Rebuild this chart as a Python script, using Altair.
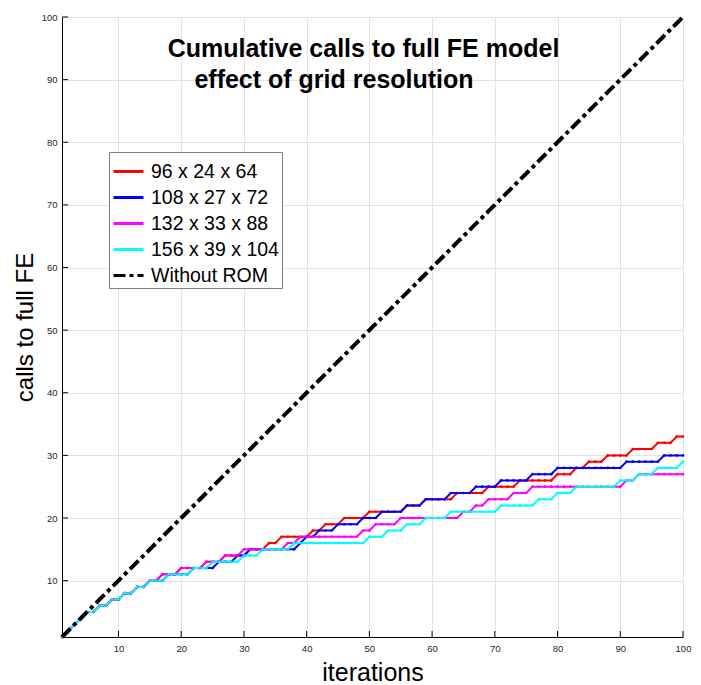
import altair as alt
import pandas as pd

# ---------------- data ----------------
iterations = list(range(1, 101))

calls_96x24x64 = [1, 2, 3, 4, 5, 5, 6, 6, 7, 7, 8, 8, 9, 9, 10, 10,
                  11, 11, 11, 12, 12, 12, 12, 13, 13, 13, 14, 14, 14, 14,
                  15, 15, 15, 16, 16, 17, 17, 17, 17, 17, 18, 18, 19, 19, 19, 20, 20, 20, 20,
                  21, 21, 21, 21, 21, 21, 22, 22, 22, 23, 23, 23, 23, 23, 24, 24, 24, 24, 24,
                  25, 25, 25, 25, 25, 26, 26, 26, 26, 26, 26, 27, 27, 27, 28, 28, 29, 29, 29,
                  30, 30, 30, 30, 31, 31, 31, 31, 32, 32, 32, 33, 33]

calls_108x27x72 = [1, 2, 3, 4, 5, 5, 6, 6, 7, 7, 8, 8, 9, 9, 10, 10,
                   10, 11, 11, 11, 11, 12, 12, 12, 12, 13, 13, 13, 14, 14,
                   15, 15, 15, 15, 15, 15, 15, 15, 16, 17, 17, 18, 18, 18, 19, 19, 19, 19,
                   20, 20, 20, 21, 21, 21, 21, 22, 22, 22, 23, 23, 23, 23, 24, 24, 24, 24,
                   25, 25, 25, 25, 26, 26, 26, 26, 26, 27, 27, 27, 27,
                   28, 28, 28, 28, 28, 28, 28, 28, 28, 28, 28,
                   29, 29, 29, 29, 29, 29,
                   30, 30, 30, 30]

calls_132x33x88 = [1, 2, 3, 4, 5, 5, 6, 6, 7, 7, 8, 8, 9, 9, 10, 10,
                   11, 11, 11, 12, 12, 12, 12, 13, 13, 13, 14, 14, 14,
                   15, 15, 15, 15, 15, 15, 15, 16, 16,
                   17, 17, 17, 17, 17, 17, 17, 17, 17, 17,
                   18, 18, 19, 19, 19, 19,
                   20, 20, 20, 20, 20, 20, 20, 20, 20, 20,
                   21, 21, 22, 22, 23, 23, 23, 23, 24, 24, 24,
                   25, 25, 25, 25, 25, 25, 25, 25, 25, 25, 25, 25, 25, 25, 25,
                   26, 26,
                   27, 27, 27, 27, 27, 27, 27, 27]

calls_156x39x104 = [1, 2, 3, 4, 5, 5, 6, 6, 7, 7, 8, 8, 9, 9, 10, 10,
                    10, 11, 11, 11, 11, 12, 12, 12, 13, 13, 13, 13, 13,
                    14, 14, 14, 15, 15, 15, 15, 15,
                    16, 16, 16, 16, 16, 16, 16, 16, 16, 16, 16, 16,
                    17, 17, 17, 18, 18, 18, 19, 19, 19, 20, 20, 20, 20,
                    21, 21, 21, 21, 21, 21, 21, 21,
                    22, 22, 22, 22, 22, 22,
                    23, 23, 23, 24, 24, 24,
                    25, 25, 25, 25, 25, 25, 25,
                    26, 26, 26, 27, 27, 27, 28, 28, 28, 28, 29]

calls_without_rom = list(range(1, 101))

series_names = ["96 x 24 x 64", "108 x 27 x 72", "132 x 33 x 88",
                "156 x 39 x 104", "Without ROM"]
series_values = [calls_96x24x64, calls_108x27x72, calls_132x33x88,
                 calls_156x39x104, calls_without_rom]
series_colors = ["#ff0000", "#0000ff", "#ff00ff", "#00ffff", "#000000"]
series_dashes = [[1, 0], [1, 0], [1, 0], [1, 0], [12, 4, 4, 4]]

tick_values = [10, 20, 30, 40, 50, 60, 70, 80, 90, 100]
title_lines = ["Cumulative calls to full FE model", "effect of grid resolution"]

# ---------------- tables ----------------
records = []
for name, values in zip(series_names, series_values):
    for it, v in zip(iterations, values):
        records.append({"series": name, "iteration": it, "calls": v})
df = pd.DataFrame(records)
df_grid = df[df["series"] != "Without ROM"]
df_rom = df[df["series"] == "Without ROM"]
ticks_df = pd.DataFrame({"v": tick_values})

FONT = "Liberation Sans"
W, H = 621, 620

x_scale = alt.Scale(domain=[1, 100], nice=False, zero=False)
y_scale = alt.Scale(domain=[1, 100], nice=False, zero=False)

x_axis = alt.Axis(values=tick_values, title="iterations", titleFont=FONT,
                  titleFontSize=25, titleFontWeight="normal", titleColor="black",
                  titleY=43, titleBaseline="alphabetic",
                  labelFont=FONT, labelFontSize=9.5, labelColor="#262626",
                  labelPadding=6, labelFlush=False, labelOverlap=False,
                  ticks=False, domainColor="black", domainWidth=1,
                  grid=True, gridColor="#e3e3e3", gridWidth=1)
y_axis = alt.Axis(values=tick_values, title="calls to full FE", titleFont=FONT,
                  titleFontSize=24, titleFontWeight="normal", titleColor="black",
                  titleX=-30, titleY=H / 2, titleAngle=270,
                  titleBaseline="alphabetic", titleAlign="center",
                  labelFont=FONT, labelFontSize=9.5, labelColor="#262626",
                  labelPadding=5, labelFlush=False, labelOverlap=False,
                  ticks=False, domainColor="black", domainWidth=1,
                  grid=True, gridColor="#e3e3e3", gridWidth=1)

legend = alt.Legend(title=None, orient="none", legendX=47, legendY=135,
                    fillColor="white", strokeColor="#808080", padding=3,
                    labelFont=FONT, labelFontSize=19.5, labelColor="black",
                    labelOffset=6, labelLimit=400,
                    symbolType="stroke", symbolSize=900, symbolStrokeWidth=3,
                    rowPadding=0, cornerRadius=0)

color_enc = alt.Color("series:N", sort=series_names,
                      scale=alt.Scale(domain=series_names, range=series_colors),
                      legend=legend)
dash_enc = alt.StrokeDash("series:N", sort=series_names,
                          scale=alt.Scale(domain=series_names, range=series_dashes),
                          legend=legend)

base_x = alt.X("iteration:Q", scale=x_scale, axis=x_axis)
base_y = alt.Y("calls:Q", scale=y_scale, axis=y_axis)

grid_lines = alt.Chart(df_grid).mark_line(
    strokeWidth=2,
    point=alt.OverlayMarkDef(filled=True, size=7, opacity=1)
).encode(x=base_x, y=base_y, color=color_enc, strokeDash=dash_enc)

rom_line = alt.Chart(df_rom).mark_line(strokeWidth=4).encode(
    x=base_x, y=base_y, color=color_enc, strokeDash=dash_enc)

x_ticks = alt.Chart(ticks_df).mark_rule(color="black", strokeWidth=1).encode(
    x=alt.X("v:Q", scale=x_scale, axis=x_axis),
    y=alt.value(H), y2=alt.value(H - 6))
y_ticks = alt.Chart(ticks_df).mark_rule(color="black", strokeWidth=1).encode(
    y=alt.Y("v:Q", scale=y_scale, axis=y_axis),
    x=alt.value(0), x2=alt.value(6))

title1 = alt.Chart(pd.DataFrame({"t": [title_lines[0]]})).mark_text(
    font=FONT, fontSize=25, fontWeight="bold", color="black",
    align="center", baseline="alphabetic"
).encode(text="t:N", x=alt.value(301.5), y=alt.value(40))
title2 = alt.Chart(pd.DataFrame({"t": [title_lines[1]]})).mark_text(
    font=FONT, fontSize=25, fontWeight="bold", color="black",
    align="center", baseline="alphabetic"
).encode(text="t:N", x=alt.value(272), y=alt.value(71))

chart = alt.layer(grid_lines, rom_line, x_ticks, y_ticks, title1, title2).properties(
    width=W, height=H,
    autosize=alt.AutoSizeParams(type="none"),
    padding={"left": 62, "top": 17, "right": 18, "bottom": 48},
    background="white",
).configure_view(stroke=None)

chart.save("out.html", embed_options={"renderer": "svg", "actions": False})
